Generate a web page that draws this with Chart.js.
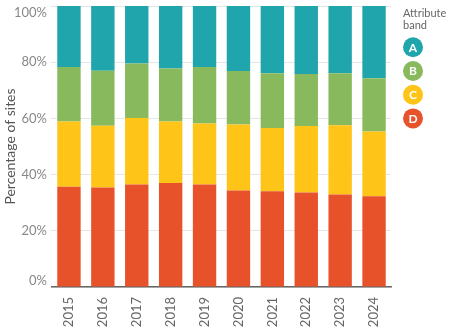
<!DOCTYPE html>
<html>
<head>
<meta charset="utf-8">
<script src="https://cdn.jsdelivr.net/npm/chart.js@4"></script>
<style>
  body { margin: 0; background: #fff; }
  #chart { display: block; }
</style>
</head>
<body>
<canvas id="chart" width="449" height="328"></canvas>
<script>
// share of sites in each attribute band, per year (percent)
var years = ["2015", "2016", "2017", "2018", "2019", "2020", "2021", "2022", "2023", "2024"];
var bandD = [35.7, 35.4, 36.5, 37.0, 36.5, 34.3, 34.1, 33.6, 32.9, 32.3];
var bandC = [23.2, 22.0, 23.6, 21.9, 21.7, 23.5, 22.5, 23.7, 24.7, 23.0];
var bandB = [19.4, 19.6, 19.4, 18.9, 20.1, 19.1, 19.5, 18.5, 18.5, 19.0];
var bandA = [21.7, 23.0, 20.5, 22.2, 21.7, 23.1, 23.9, 24.2, 23.9, 25.7];
var yTicks = [0, 20, 40, 60, 80, 100];

var FONT = "Lato";

// legend drawn to the right: title + coloured discs with letters
var bandLegend = {
  id: "bandLegend",
  afterDraw: function (chart) {
    var ctx = chart.ctx;
    var x = chart.chartArea.right + 12;
    ctx.save();
    ctx.fillStyle = "#666";
    ctx.font = "11px " + FONT;
    ctx.textAlign = "left";
    ctx.textBaseline = "alphabetic";
    ctx.fillText("Attribute", x, 16.5);
    ctx.fillText("band", x, 28.5);

    var sets = chart.data.datasets.slice().reverse();
    sets.forEach(function (ds, i) {
      var cx = x + 10, cy = 47.3 + i * 23.7;
      ctx.beginPath();
      ctx.arc(cx, cy, 10, 0, Math.PI * 2);
      ctx.fillStyle = ds.backgroundColor;
      ctx.fill();
      ctx.fillStyle = "#fff";
      ctx.font = "bold 12px " + FONT;
      ctx.textAlign = "center";
      ctx.textBaseline = "middle";
      ctx.fillText(ds.label, cx, cy + 0.5);
    });
    ctx.restore();
  }
};

new Chart(document.getElementById("chart"), {
  type: "bar",
  data: {
    labels: years,
    datasets: [
      { label: "D", data: bandD, backgroundColor: "#E8522B" },
      { label: "C", data: bandC, backgroundColor: "#FEC418" },
      { label: "B", data: bandB, backgroundColor: "#88BA5D" },
      { label: "A", data: bandA, backgroundColor: "#21A5AC" }
    ]
  },
  options: {
    responsive: false,
    animation: false,
    events: [],
    layout: { padding: { top: 6, right: 58, bottom: 0, left: 0 } },
    datasets: {
      bar: { barPercentage: 0.69, categoryPercentage: 1.0, borderWidth: 0 }
    },
    plugins: {
      legend: { display: false },
      tooltip: { enabled: false }
    },
    scales: {
      x: {
        stacked: true,
        grid: { display: false, drawTicks: false },
        border: { display: true, color: "#666", width: 1.5 },
        ticks: {
          color: "#666",
          font: { family: FONT, size: 13 },
          minRotation: 90,
          maxRotation: 90,
          padding: 10
        },
        afterFit: function (scale) { scale.height = 41; }
      },
      y: {
        stacked: true,
        min: 0,
        max: 100,
        grid: { color: "#e6e6e6", tickLength: 2, tickColor: "#e6e6e6" },
        border: { display: false },
        afterBuildTicks: function (scale) {
          scale.ticks = yTicks.map(function (v) { return { value: v }; });
        },
        ticks: {
          color: "#888",
          padding: 3,
          font: { family: FONT, size: 13, lineHeight: 1.0 },
          callback: function (v) {
            // keep the end labels inside the plot, like the original
            if (v === 100) return ["", v + "%"];
            if (v === 0) return [v + "%", ""];
            return v + "%";
          }
        },
        title: {
          display: true,
          text: "Percentage of sites",
          color: "#555",
          font: { family: FONT, size: 14 },
          padding: { top: 2, bottom: 0 }
        },
        afterFit: function (scale) {
          scale.width = 52;
          scale.paddingTop = 0;
          scale.paddingBottom = 0;
        }
      }
    }
  },
  plugins: [bandLegend]
});
</script>
</body>
</html>
